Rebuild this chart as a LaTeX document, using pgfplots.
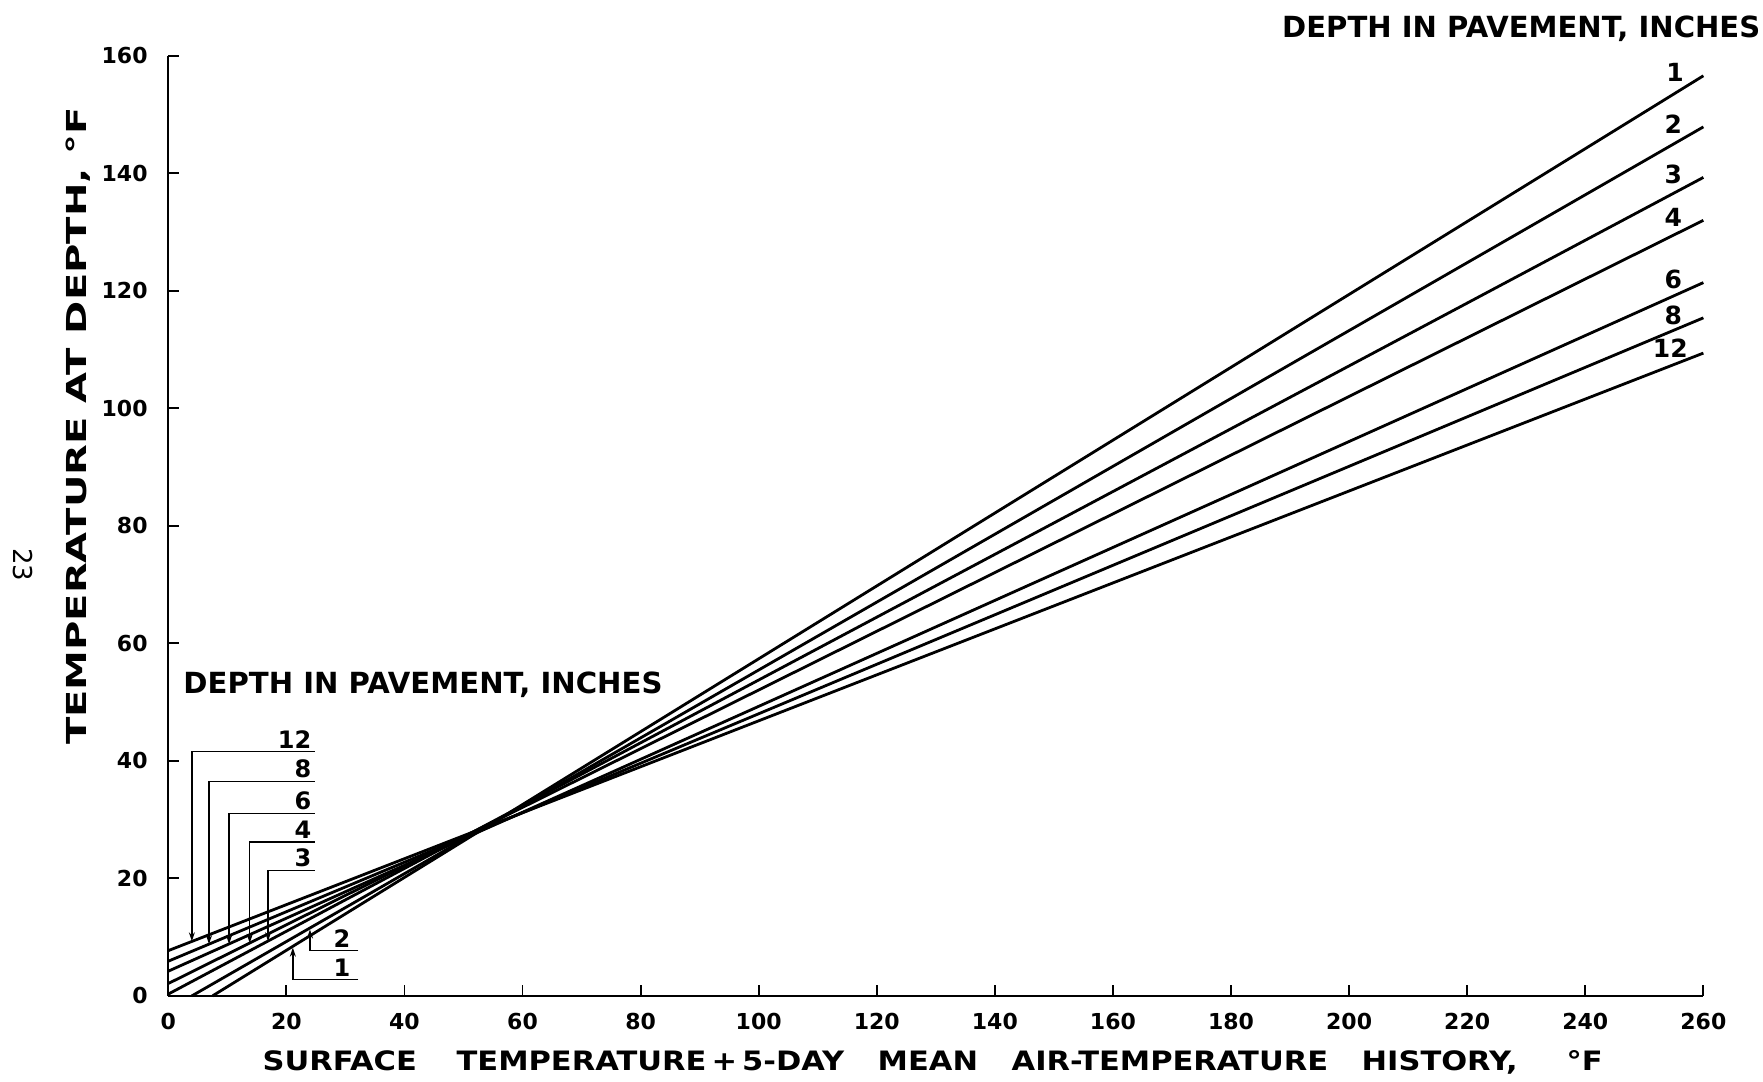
\documentclass[border=0pt]{standalone}
\usepackage{fontspec}
\setmainfont{DejaVu Sans}
\usepackage{graphicx}
\usepackage{pgfplots}
\pgfplotsset{compat=1.18}
\usetikzlibrary{arrows.meta}
\begin{document}
\begin{tikzpicture}
\begin{axis}[
  scale only axis, width=767.5pt, height=470pt,
  xmin=0, xmax=260, ymin=0, ymax=160,
  axis x line*=bottom, axis y line*=left,
  axis line style={line width=1.2pt},
  xtick={0,20,...,260}, ytick={0,20,...,160},
  tick align=inside, major tick length=5.5pt,
  tick style={line width=0.9pt, black},
  minor tick num=0,
  clip=false,
  /pgf/number format/assume math mode=true,
  tick label style={font=\fontsize{11}{11}\selectfont\bfseries},
  yticklabel style={xshift=-6.8pt},
  xticklabel style={yshift=-5.2pt},
]
% series: depth in pavement, inches
\addplot[black, line width=1.4pt, no markers] coordinates {(7.5,0) (260,156.6)};   % 1
\addplot[black, line width=1.4pt, no markers] coordinates {(4.0,0) (260,147.9)};   % 2
\addplot[black, line width=1.4pt, no markers] coordinates {(0,0.3) (260,139.3)};   % 3
\addplot[black, line width=1.4pt, no markers] coordinates {(0,2.1) (260,132.0)};   % 4
\addplot[black, line width=1.4pt, no markers] coordinates {(0,4.2) (260,121.4)};   % 6
\addplot[black, line width=1.4pt, no markers] coordinates {(0,5.9) (260,115.4)};   % 8
\addplot[black, line width=1.4pt, no markers] coordinates {(0,7.7) (260,109.4)};   % 12

% right-end labels
\begin{scope}[every node/.style={font=\fontsize{12.5}{12.5}\selectfont\bfseries, inner sep=0pt}]
\node at (axis cs:255.2,157.1) {1};
\node at (axis cs:254.9,148.4) {2};
\node at (axis cs:254.9,139.8) {3};
\node at (axis cs:254.9,132.5) {4};
\node at (axis cs:254.9,122.0) {6};
\node at (axis cs:254.9,115.9) {8};
\node at (axis cs:254.4,110.2) {12};
\end{scope}

% titles
\node[anchor=base west, inner sep=0pt] at (axis cs:188.6,163.1)
  {\resizebox{239pt}{10.8pt}{\bfseries DEPTH IN PAVEMENT, INCHES}};
\node[anchor=base west, inner sep=0pt] at (axis cs:2.5,51.5)
  {\resizebox{239.5pt}{10.8pt}{\bfseries DEPTH IN PAVEMENT, INCHES}};

% callouts
\begin{scope}[line width=0.75pt, >={Stealth[length=4.5pt,width=3pt]}]
\draw[->] (axis cs:24.8,41.6) -- (axis cs:4.0,41.6) -- (axis cs:4.0,9.3);
\draw[->] (axis cs:24.8,36.5) -- (axis cs:6.9,36.5) -- (axis cs:6.9,8.8);
\draw[->] (axis cs:24.8,31.0) -- (axis cs:10.3,31.0) -- (axis cs:10.3,8.8);
\draw[->] (axis cs:24.8,26.2) -- (axis cs:13.8,26.2) -- (axis cs:13.8,9.0);
\draw[->] (axis cs:24.8,21.3) -- (axis cs:16.9,21.3) -- (axis cs:16.9,9.3);
\draw[->] (axis cs:32.2,7.7) -- (axis cs:24.0,7.7) -- (axis cs:24.0,11.3);
\draw[->] (axis cs:32.2,2.8) -- (axis cs:21.1,2.8) -- (axis cs:21.1,8.2);
\end{scope}
\begin{scope}[every node/.style={font=\fontsize{12}{12}\selectfont\bfseries, inner sep=1.5pt, anchor=south east}]
\node at (axis cs:24.8,41.6) {12};
\node at (axis cs:24.8,36.5) {8};
\node at (axis cs:24.8,31.0) {6};
\node at (axis cs:24.8,26.2) {4};
\node at (axis cs:24.8,21.3) {3};
\node at (axis cs:31.4,7.7) {2};
\node at (axis cs:31.4,2.8) {1};
\end{scope}

% axis labels
\node[anchor=base west, inner sep=0pt] at (axis cs:15.9,-12.7)
  {\resizebox{670pt}{10pt}{\bfseries SURFACE\hspace{1.3em}TEMPERATURE\,+\,5-DAY\hspace{1.1em}MEAN\hspace{1.1em}AIR-TEMPERATURE\hspace{1.1em}HISTORY,\hspace{1.6em}°F}};
\node[rotate=90, anchor=base, inner sep=0pt] at (axis cs:-13.8,97.0)
  {\resizebox{319pt}{10.3pt}{\bfseries TEMPERATURE AT DEPTH, °F}};
\node[rotate=-90, inner sep=0pt, font=\fontsize{13}{13}\selectfont] at (axis cs:-24.6,73.4) {23};

\coordinate (bl) at (axis cs:-28.5,-14.5);
\coordinate (tr) at (axis cs:270.1,169.5);
\end{axis}
\pgfresetboundingbox
\path[use as bounding box] (bl) rectangle (tr);
\end{tikzpicture}
\end{document}
